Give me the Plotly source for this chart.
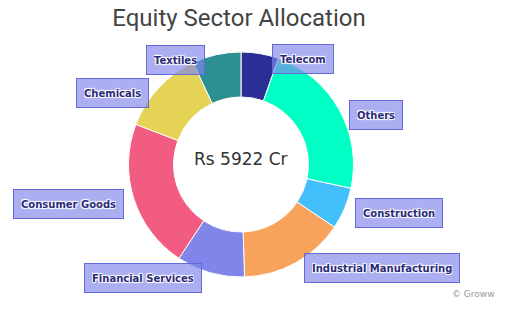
import plotly.graph_objects as go

# Sector weights (% of equity holdings), listed clockwise from 12 o'clock
sectors = [
    "Telecom",
    "Others",
    "Construction",
    "Industrial Manufacturing",
    "Financial Services",
    "Consumer Goods",
    "Chemicals",
    "Textiles",
]
weights = [5.4, 23.0, 6.0, 15.1, 9.8, 21.5, 12.2, 7.0]
slice_colors = [
    "#2b2f95",
    "#00ffc5",
    "#43c0fc",
    "#f7a35c",
    "#8085e9",
    "#f15c80",
    "#e4d354",
    "#2b908f",
]
total_label = "Rs 5922 Cr"

W, H = 505, 314


def px(x):
    return x / W


def py(y):
    return 1 - y / H


# label box centres in pixels (x, y from top)
label_pos = {
    "Telecom": (303, 59),
    "Others": (376, 115),
    "Construction": (399, 213),
    "Industrial Manufacturing": (382, 268),
    "Financial Services": (143, 278),
    "Consumer Goods": (68, 204),
    "Chemicals": (112, 93),
    "Textiles": (175, 60),
}

cx, cy, r = 241, 164.5, 112.5

fig = go.Figure(
    go.Pie(
        labels=sectors,
        values=weights,
        sort=False,
        direction="clockwise",
        rotation=0,
        hole=0.6,
        marker=dict(colors=slice_colors, line=dict(color="#ffffff", width=1)),
        textinfo="none",
        hoverinfo="label+percent",
        domain=dict(x=[px(cx - r), px(cx + r)], y=[py(cy + r), py(cy - r)]),
    )
)

halo = ("1px 1px 1px #fff, -1px -1px 1px #fff, "
        "1px -1px 1px #fff, -1px 1px 1px #fff")

annotations = []
for name in sectors:
    x, y = label_pos[name]
    annotations.append(
        dict(
            x=px(x), y=py(y), xref="paper", yref="paper",
            xanchor="center", yanchor="middle",
            text=name, showarrow=False,
            font=dict(family="DejaVu Sans", size=10, color="#2a2a78",
                      weight="bold", shadow=halo),
            height=14,
            bgcolor="rgba(128,133,233,0.66)",
            bordercolor="#6468d8", borderwidth=1, borderpad=7,
        )
    )

annotations.append(
    dict(
        x=px(cx), y=py(159), xref="paper", yref="paper",
        xanchor="center", yanchor="middle",
        text=total_label, showarrow=False,
        font=dict(family="DejaVu Sans", size=17, color="#333333"),
    )
)
annotations.append(
    dict(
        x=px(497), y=py(294), xref="paper", yref="paper",
        xanchor="right", yanchor="middle",
        text="© Groww", showarrow=False,
        font=dict(family="DejaVu Sans", size=9, color="#999999"),
    )
)

fig.update_layout(
    width=W, height=H,
    autosize=False,
    margin=dict(l=0, r=0, t=0, b=0),
    paper_bgcolor="#ffffff",
    showlegend=False,
    title=dict(
        text="Equity Sector Allocation",
        x=px(239), y=py(18), xanchor="center", yanchor="middle",
        font=dict(family="Roboto", size=24, color="#444444"),
    ),
    annotations=annotations,
)

fig.write_html("out.html")
